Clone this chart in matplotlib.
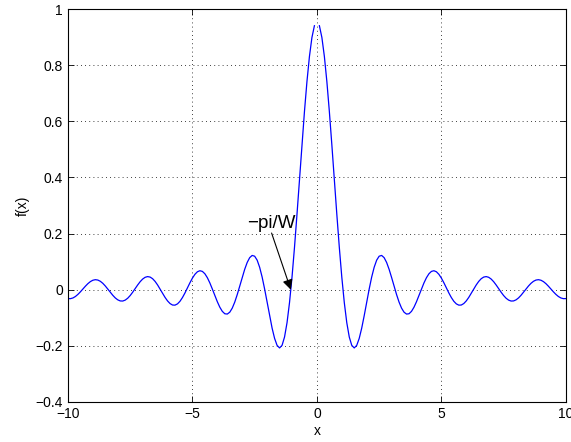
import numpy as np
import matplotlib
matplotlib.use("Agg")
import matplotlib.pyplot as plt

plt.rcParams['font.family'] = ['Liberation Sans', 'DejaVu Sans']

# samples x = -10:0.1:10 (x = 0 undefined -> gap)
x = np.round(np.arange(-100, 101) / 10.0, 1)

f_pos = [0.9407, 0.8987, 0.8311, 0.7417, 0.6350, 0.5166, 0.3925, 0.2688, 0.1512, 0.0449,
         -0.0456, -0.1174, -0.1684, -0.1982, -0.2074, -0.1982, -0.1733, -0.1367, -0.0923, -0.0445,
         0.0025, 0.0451, 0.0800, 0.1053, 0.1194, 0.1222, 0.1143, 0.0972, 0.0728, 0.0437,
         0.0128, -0.0173, -0.0441, -0.0655, -0.0800, -0.0867, -0.0856, -0.0770, -0.0622, -0.0427,
         -0.0204, 0.0025, 0.0242, 0.0428, 0.0569, 0.0653, 0.0677, 0.0640, 0.0549, 0.0414,
         0.0248, 0.0066, -0.0115, -0.0278, -0.0412, -0.0504, -0.0549, -0.0545, -0.0492, -0.0398,
         -0.0273, -0.0127, 0.0025, 0.0171, 0.0297, 0.0393, 0.0451, 0.0468, 0.0443, 0.0380,
         0.0286, 0.0169, 0.0040, -0.0089, -0.0207, -0.0303, -0.0370, -0.0403, -0.0399, -0.0360,
         -0.0291, -0.0197, -0.0088, 0.0025, 0.0134, 0.0229, 0.0301, 0.0345, 0.0358, 0.0338,
         0.0289, 0.0216, 0.0125, 0.0025, -0.0075, -0.0166, -0.0241, -0.0293, -0.0318, -0.0315]
f_neg = [-0.0315, -0.0318, -0.0293, -0.0241, -0.0166, -0.0075, 0.0025, 0.0125, 0.0216, 0.0289,
         0.0338, 0.0358, 0.0345, 0.0301, 0.0229, 0.0134, 0.0025, -0.0088, -0.0197, -0.0291,
         -0.0360, -0.0399, -0.0403, -0.0370, -0.0303, -0.0207, -0.0089, 0.0040, 0.0169, 0.0286,
         0.0380, 0.0443, 0.0468, 0.0451, 0.0393, 0.0297, 0.0171, 0.0025, -0.0127, -0.0273,
         -0.0398, -0.0492, -0.0545, -0.0549, -0.0504, -0.0412, -0.0278, -0.0115, 0.0066, 0.0248,
         0.0414, 0.0549, 0.0640, 0.0677, 0.0653, 0.0569, 0.0428, 0.0242, 0.0025, -0.0204,
         -0.0427, -0.0622, -0.0770, -0.0856, -0.0867, -0.0800, -0.0655, -0.0441, -0.0173, 0.0128,
         0.0437, 0.0728, 0.0972, 0.1143, 0.1222, 0.1194, 0.1053, 0.0800, 0.0451, 0.0025,
         -0.0445, -0.0923, -0.1367, -0.1733, -0.1982, -0.2074, -0.1982, -0.1684, -0.1174, -0.0456,
         0.0449, 0.1512, 0.2688, 0.3925, 0.5166, 0.6350, 0.7417, 0.8311, 0.8987, 0.9407]
f = np.array(f_neg + [np.nan] + f_pos)

xticks = [-10, -5, 0, 5, 10]
yticks = [-0.4, -0.2, 0, 0.2, 0.4, 0.6, 0.8, 1]
ytick_labels = ['\u22120.4', '\u22120.2', '0', '0.2', '0.4', '0.6', '0.8', '1']
xtick_labels = ['\u221210', '\u22125', '0', '5', '10']

ann_text = '\u2212pi/W'
ann_tip = (-1.047, 0.0)
ann_tail = (-1.82, 0.202)

fig = plt.figure(figsize=(5.71, 4.42), dpi=100)
ax = fig.add_axes([0.119, 0.0905, 0.872, 0.889])
ax.plot(x, f, color=(0, 0, 1), lw=0.9)
ax.set_xlim(-10, 10)
ax.set_ylim(-0.4, 1)
ax.set_xticks(xticks)
ax.set_xticklabels(xtick_labels)
ax.set_yticks(yticks)
ax.set_yticklabels(ytick_labels)
ax.grid(True, linestyle=(0, (1, 4)), color='k', lw=0.6)
ax.tick_params(direction='in', top=True, right=True, labelsize=10, length=4, width=0.6)
for s in ax.spines.values():
    s.set_linewidth(0.8)
ax.set_xlabel('x', fontsize=10, labelpad=2)
ax.set_ylabel('f(x)', fontsize=10, labelpad=4)

ax.annotate('', xy=ann_tip, xytext=ann_tail,
            arrowprops=dict(arrowstyle='-|>', color='k', lw=0.8, mutation_scale=15,
                            shrinkA=0, shrinkB=0))
ax.text(ann_tail[0], ann_tail[1] + 0.003, ann_text, ha='center', va='bottom', fontsize=13.5)

fig.savefig('out.png', dpi=100)
